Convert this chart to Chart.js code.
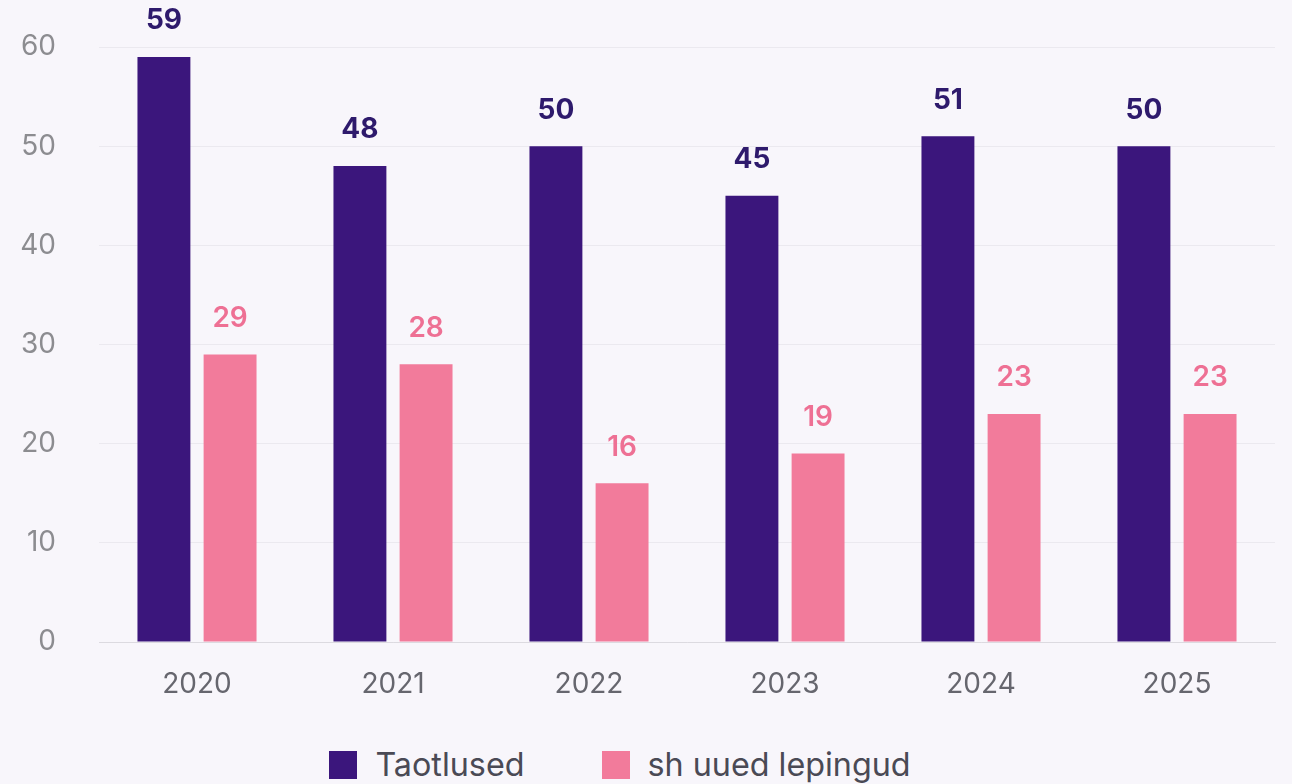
<!DOCTYPE html>
<html lang="et">
<head>
    <meta charset="UTF-8">
    <title>Taotlused ja uued lepingud</title>
    <script src="https://cdn.jsdelivr.net/npm/chart.js"></script>
    <style>
        body {
            margin: 0;
            padding: 0;
            background-color: #f8f6fb;
            font-family: 'Inter', 'Roboto', sans-serif;
        }

        .wrap {
            position: relative;
            width: 1292px;
            height: 784px;
        }

        .chart-box {
            position: absolute;
            left: 0;
            top: 0;
            width: 1292px;
            height: 720px;
        }

        .legend {
            position: absolute;
            left: -26px;
            top: 745px;
            width: 1292px;
            display: flex;
            justify-content: center;
            align-items: center;
            gap: 77px;
            font-size: 32.3px;
            color: #4a4a55;
        }

        .legend-item {
            display: flex;
            align-items: center;
        }

        .legend-box {
            width: 28px;
            height: 28px;
            margin-right: 18px;
        }
    </style>
</head>
<body>
    <div class="wrap">
        <div class="chart-box">
            <canvas id="barChart"></canvas>
        </div>
        <div class="legend" id="legend"></div>
    </div>

    <script>
        // data
        var years = ['2020', '2021', '2022', '2023', '2024', '2025'];
        var taotlused = [59, 48, 50, 45, 51, 50];
        var uuedLepingud = [29, 28, 16, 19, 23, 23];
        var seriesNames = ['Taotlused', 'sh uued lepingud'];

        var purple = '#3b167c';
        var pink = '#f27b9b';
        var labelColors = ['#2e1a6c', '#ee7094'];

        // value labels above the bars
        var valueLabels = {
            id: 'valueLabels',
            afterDatasetsDraw: function(chart) {
                var ctx = chart.ctx;
                ctx.save();
                ctx.textAlign = 'center';
                ctx.textBaseline = 'middle';
                chart.data.datasets.forEach(function(ds, i) {
                    var meta = chart.getDatasetMeta(i);
                    ctx.fillStyle = labelColors[i];
                    ctx.font = (i === 0 ? '700 ' : '600 ') + '28px Inter, Roboto, sans-serif';
                    meta.data.forEach(function(bar, j) {
                        ctx.fillText(ds.data[j], bar.x, bar.y - 36);
                    });
                });
                ctx.restore();
            }
        };

        var ctx = document.getElementById('barChart').getContext('2d');
        var barChart = new Chart(ctx, {
            type: 'bar',
            data: {
                labels: years,
                datasets: [{
                    label: seriesNames[0],
                    data: taotlused,
                    backgroundColor: purple
                }, {
                    label: seriesNames[1],
                    data: uuedLepingud,
                    backgroundColor: pink
                }]
            },
            options: {
                responsive: true,
                maintainAspectRatio: false,
                animation: false,
                layout: {
                    padding: { top: 47, right: 17, left: 0, bottom: 0 }
                },
                datasets: {
                    bar: {
                        categoryPercentage: 0.675,
                        barPercentage: 0.8
                    }
                },
                plugins: {
                    legend: { display: false },
                    tooltip: { enabled: false }
                },
                scales: {
                    x: {
                        grid: { display: false, drawTicks: false },
                        border: { display: true, color: '#dcdae0', width: 1 },
                        ticks: {
                            padding: 26,
                            color: '#66666e',
                            font: { family: 'Inter', size: 28 }
                        },
                        afterFit: function(scale) { scale.height = 78; }
                    },
                    y: {
                        min: 0,
                        max: 60,
                        grid: { color: '#ebe9ef', drawTicks: false },
                        border: { display: false },
                        ticks: {
                            stepSize: 10,
                            padding: 43,
                            color: '#8c8c90',
                            font: { family: 'Inter', size: 28 }
                        },
                        afterFit: function(scale) {
                            // fixed axis width; the big tick padding should not push the plot top down
                            scale.width = 99;
                            scale.paddingTop = 0;
                            scale.paddingBottom = 0;
                        }
                    }
                }
            },
            plugins: [valueLabels]
        });

        // html legend
        var legend = document.getElementById('legend');
        [purple, pink].forEach(function(col, i) {
            var item = document.createElement('div');
            item.className = 'legend-item';
            item.innerHTML = '<span class="legend-box" style="background:' + col + '"></span><span>' + seriesNames[i] + '</span>';
            legend.appendChild(item);
        });
    </script>
</body>
</html>
